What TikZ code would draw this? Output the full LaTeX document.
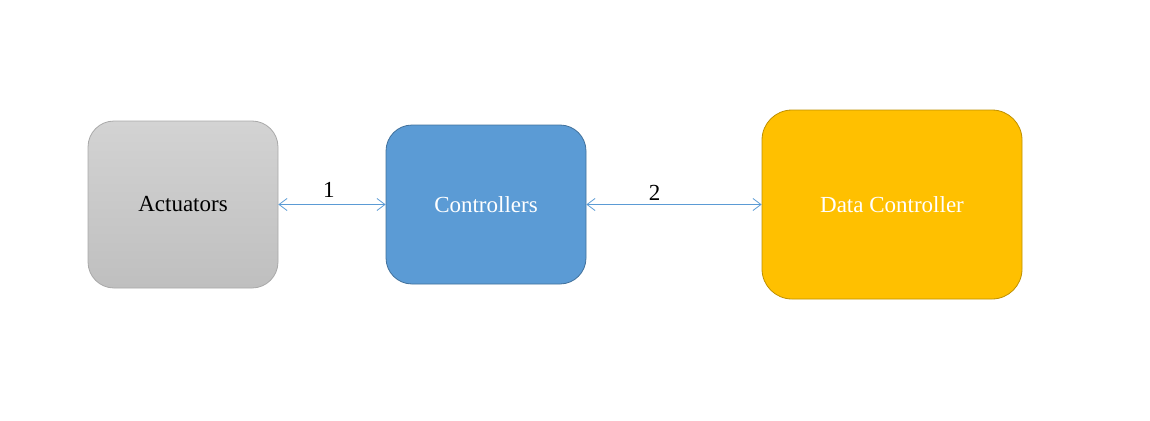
\documentclass[tikz,border=0pt]{standalone}
\usepackage{fontspec}
\setmainfont{Liberation Serif}
\usepackage{xcolor}
\usepackage{tikz}
\usetikzlibrary{arrows.meta}
\definecolor{actgray}{HTML}{BFBFBF}
\definecolor{actlight}{HTML}{D3D3D3}
\definecolor{actedge}{HTML}{A9A9A9}
\definecolor{ctrlblue}{HTML}{5B9BD5}
\definecolor{ctrledge}{HTML}{41719C}
\definecolor{datagold}{HTML}{FFC000}
\definecolor{dataedge}{HTML}{BF9000}
\definecolor{link}{HTML}{5B9BD5}
\tikzset{
  blk/.style={rounded corners=26pt, line width=0.8pt, inner sep=0pt,
    font=\fontsize{23}{27}\selectfont},
  actbox/.style={blk, draw=actedge, top color=actlight, bottom color=actgray,
    text=black, minimum width=190pt, minimum height=167pt},
  ctrlbox/.style={blk, draw=ctrledge, fill=ctrlblue, text=white,
    minimum width=200pt, minimum height=159pt},
  databox/.style={blk, draw=dataedge, fill=datagold, text=white,
    minimum width=260pt, minimum height=189pt, rounded corners=30pt},
  wire/.style={draw=link, line width=0.8pt,
    {Straight Barb[length=8pt,width=12pt]}-{Straight Barb[length=8pt,width=12pt]}},
  num/.style={text=black, font=\fontsize{23}{27}\selectfont}
}
\begin{document}
\begin{tikzpicture}[x=1pt,y=-1pt]
\useasboundingbox (0,0) rectangle (1150,420);

\node[actbox] (act) at (183,204.5) {Actuators};
\node[ctrlbox] (ctrl) at (486,204.5) {Controllers};
\node[databox] (data) at (892,204.5) {Data Controller};

\draw[wire] (act) -- (ctrl) node[num, pos=0.47, above=3pt] (n1) {1};
\draw[wire] (ctrl) -- (data) node[num, pos=0.39, above=0pt] (n2) {2};
\end{tikzpicture}
\end{document}
